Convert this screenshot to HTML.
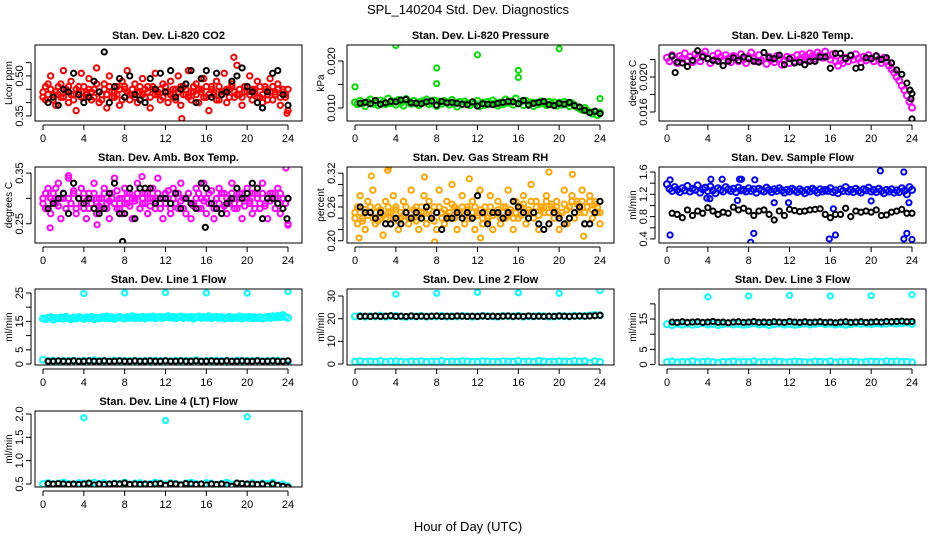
<!DOCTYPE html>
<html><head><meta charset="utf-8"><style>
html,body{margin:0;padding:0;background:#fff;}
svg{display:block;font-family:"Liberation Sans",Arial,sans-serif;}
</style></head><body>
<svg id="chart" width="936" height="540" viewBox="0 0 936 540">
<rect width="936" height="540" fill="#fff"/>
<text x="468" y="14" text-anchor="middle" font-size="13">SPL_140204  Std. Dev. Diagnostics</text>
<text x="468" y="531" text-anchor="middle" font-size="13">Hour of Day (UTC)</text>
</svg>
<script>
// ---- data ----
const xTicks = [0,4,8,12,16,20,24];
const co2Red = [0.44,0.41,0.47,0.50,0.43,0.39,0.46,0.42,0.52,0.45,0.40,0.48,0.43,0.37,0.46,0.51,0.42,0.44,0.49,0.41,0.45,0.53,0.40,0.43,0.47,0.38,0.50,0.44,0.42,0.46,0.39,0.48,0.45,0.52,0.41,0.43,0.47,0.40,0.44,0.49,0.42,0.46,0.38,0.45,0.51,0.43,0.41,0.47,0.44,0.40,0.48,0.42,0.45,0.50,0.39,0.46,0.43,0.52,0.41,0.44,0.47,0.40,0.45,0.49,0.42,0.37,0.46,0.43,0.48,0.41,0.44,0.51,0.40,0.45,0.47,0.42,0.54,0.43,0.39,0.46,0.44,0.50,0.41,0.45,0.48,0.42,0.40,0.46,0.43,0.49,0.41,0.44,0.47,0.39,0.45,0.42,0.37];
const co2Red2 = [0.42,0.46,0.43,0.45,0.41,0.44,0.43,0.47,0.42,0.44,0.46,0.43,0.41,0.45,0.44,0.42,0.46,0.43,0.45,0.44,0.42,0.47,0.44,0.41,0.45,0.43,0.46,0.42,0.44,0.43,0.45,0.41,0.46,0.44,0.43,0.45,0.42,0.44,0.46,0.43,0.45,0.44,0.42,0.46,0.43,0.44,0.45,0.42,0.46,0.44,0.43,0.45,0.41,0.44,0.46,0.43,0.45,0.42,0.44,0.46,0.43,0.45,0.44,0.42,0.46,0.43,0.45,0.44,0.41,0.46,0.43,0.44,0.45,0.42,0.46,0.44,0.43,0.45,0.42,0.44,0.46,0.43,0.45,0.44,0.42,0.46,0.43,0.45,0.41,0.44,0.46,0.43,0.45,0.42,0.44,0.43,0.45];
const co2Black = [0.40,0.42,0.39,0.45,0.44,0.51,0.43,0.40,0.42,0.48,0.44,0.59,0.40,0.46,0.49,0.42,0.50,0.43,0.41,0.40,0.49,0.45,0.51,0.44,0.52,0.42,0.45,0.47,0.52,0.40,0.49,0.52,0.42,0.51,0.43,0.44,0.48,0.50,0.53,0.46,0.44,0.40,0.38,0.44,0.51,0.52,0.43,0.39];
const co2OutX = [18.7,13.6,23.9];
const co2OutY = [0.57,0.34,0.36];
const co2Ticks = [0.35,0.40,0.45,0.50,0.55];
const co2Labels = ["0.35","","","0.50",""];

const presGreen = [0.0112,0.0108,0.0115,0.0110,0.0104,0.0113,0.0118,0.0109,0.0111,0.0106,0.0116,0.0112,0.0108,0.0120,0.0110,0.0114,0.0107,0.0117,0.0111,0.0105,0.0119,0.0113,0.0109,0.0115,0.0110,0.0106,0.0114,0.0112,0.0118,0.0108,0.0111,0.0116,0.0104,0.0113,0.0109,0.0115,0.0111,0.0107,0.0117,0.0110,0.0103,0.0113,0.0108,0.0114,0.0110,0.0106,0.0112,0.0109,0.0115,0.0104,0.0111,0.0107,0.0113,0.0109,0.0116,0.0110,0.0105,0.0112,0.0108,0.0118,0.0111,0.0114,0.0107,0.0120,0.0110,0.0113,0.0106,0.0115,0.0109,0.0112,0.0104,0.0111,0.0108,0.0114,0.0110,0.0106,0.0113,0.0109,0.0112,0.0105,0.0111,0.0107,0.0113,0.0109,0.0104,0.0110,0.0106,0.0102,0.0099,0.0096,0.0100,0.0094,0.0091,0.0088,0.0092,0.0085,0.0090];
const presBlack = [0.0110,0.0112,0.0109,0.0116,0.0108,0.0111,0.0114,0.0113,0.0117,0.0118,0.0111,0.0110,0.0109,0.0113,0.0115,0.0106,0.0114,0.0111,0.0112,0.0110,0.0108,0.0107,0.0113,0.0104,0.0109,0.0108,0.0107,0.0110,0.0112,0.0114,0.0113,0.0109,0.0116,0.0106,0.0110,0.0112,0.0114,0.0107,0.0105,0.0110,0.0108,0.0112,0.0105,0.0102,0.0095,0.0090,0.0093,0.0088];
const presOutX = [0,4,8,8,12,16,16,20,24];
const presOutY = [0.0145,0.0233,0.0185,0.0152,0.0213,0.0180,0.0165,0.0226,0.0120];
const presTicks = [0.010,0.015,0.020];
const presLabels = ["0.010","","0.020"];

const tempMag = [0.0222,0.0218,0.0225,0.0220,0.0216,0.0224,0.0221,0.0227,0.0219,0.0223,0.0217,0.0226,0.0222,0.0218,0.0225,0.0229,0.0221,0.0216,0.0224,0.0220,0.0227,0.0223,0.0219,0.0225,0.0221,0.0217,0.0224,0.0222,0.0218,0.0226,0.0220,0.0216,0.0223,0.0228,0.0221,0.0218,0.0225,0.0219,0.0222,0.0215,0.0223,0.0220,0.0217,0.0224,0.0221,0.0214,0.0219,0.0223,0.0216,0.0222,0.0218,0.0225,0.0220,0.0226,0.0223,0.0219,0.0227,0.0224,0.0221,0.0228,0.0225,0.0222,0.0229,0.0224,0.0220,0.0226,0.0218,0.0213,0.0219,0.0216,0.0222,0.0218,0.0224,0.0220,0.0226,0.0221,0.0217,0.0223,0.0219,0.0225,0.0221,0.0218,0.0224,0.0220,0.0216,0.0222,0.0218,0.0213,0.0209,0.0205,0.0200,0.0196,0.0190,0.0185,0.0179,0.0172,0.0165];
const tempBlack = [0.0224,0.0217,0.0216,0.0212,0.0219,0.0230,0.0223,0.0221,0.0219,0.0218,0.0213,0.0218,0.0222,0.0219,0.0223,0.0221,0.0218,0.0217,0.0228,0.0222,0.0221,0.0225,0.0214,0.0221,0.0216,0.0217,0.0214,0.0218,0.0218,0.0223,0.0223,0.0210,0.0227,0.0227,0.0221,0.0225,0.0210,0.0211,0.0222,0.0221,0.0224,0.0220,0.0222,0.0216,0.0208,0.0203,0.0193,0.0181];
const tempOutX = [0.8,23.8,23.9,24];
const tempOutY = [0.0205,0.0185,0.0175,0.0152];
const tempTicks = [0.016,0.018,0.020,0.022];
const tempLabels = ["0.016","","0.020",""];

const ambMag = [0.30,0.28,0.32,0.27,0.31,0.29,0.33,0.26,0.30,0.28,0.34,0.29,0.31,0.27,0.30,0.32,0.28,0.26,0.31,0.29,0.33,0.27,0.30,0.28,0.32,0.29,0.26,0.31,0.34,0.28,0.30,0.27,0.32,0.29,0.31,0.26,0.30,0.33,0.28,0.29,0.31,0.27,0.30,0.32,0.28,0.34,0.29,0.26,0.31,0.30,0.27,0.32,0.29,0.28,0.33,0.30,0.27,0.31,0.26,0.29,0.32,0.28,0.30,0.33,0.27,0.31,0.29,0.26,0.30,0.32,0.28,0.31,0.27,0.29,0.33,0.30,0.28,0.31,0.26,0.30,0.32,0.29,0.27,0.31,0.30,0.28,0.33,0.29,0.26,0.31,0.30,0.28,0.32,0.27,0.30,0.29,0.25];
const ambMag2 = [0.29,0.31,0.28,0.30,0.295,0.32,0.285,0.30,0.31,0.28,0.30,0.29,0.315,0.28,0.30,0.29,0.31,0.295,0.28,0.30,0.31,0.29,0.285,0.30,0.31,0.28,0.295,0.30,0.29,0.315,0.28,0.30,0.29,0.31,0.285,0.30,0.295,0.31,0.28,0.30,0.29,0.31,0.285,0.30,0.295,0.31,0.28,0.30,0.29,0.315,0.28,0.30,0.29,0.31,0.295,0.28,0.30,0.31,0.29,0.285,0.30,0.31,0.28,0.295,0.30,0.29,0.315,0.28,0.30,0.29,0.31,0.285,0.30,0.295,0.31,0.28,0.30,0.29,0.31,0.285,0.30,0.295,0.31,0.28,0.30,0.29,0.31,0.285,0.30,0.295,0.31,0.30,0.29,0.31,0.30,0.29,0.30];
const ambBlack = [0.28,0.29,0.30,0.31,0.27,0.33,0.30,0.29,0.30,0.28,0.27,0.28,0.31,0.33,0.27,0.27,0.32,0.26,0.32,0.32,0.32,0.29,0.30,0.30,0.29,0.31,0.28,0.30,0.29,0.28,0.33,0.32,0.29,0.28,0.27,0.29,0.30,0.32,0.30,0.31,0.33,0.32,0.26,0.30,0.30,0.29,0.28,0.30];
const ambOutX = [0.7,5.3,9.7,2.5,23.8,24];
const ambOutY = [0.242,0.248,0.343,0.345,0.360,0.247];
const ambBOutX = [7.8,15.9,23.9];
const ambBOutY = [0.215,0.243,0.260];
const ambTicks = [0.25,0.30,0.35];
const ambLabels = ["0.25","","0.35"];

const rhOrange = [0.25,0.23,0.28,0.24,0.22,0.27,0.25,0.29,0.23,0.26,0.24,0.21,0.27,0.25,0.23,0.28,0.26,0.22,0.24,0.27,0.25,0.23,0.29,0.24,0.26,0.22,0.25,0.28,0.23,0.27,0.24,0.26,0.22,0.29,0.25,0.23,0.27,0.24,0.30,0.26,0.22,0.25,0.28,0.23,0.26,0.24,0.27,0.22,0.25,0.29,0.23,0.26,0.24,0.28,0.22,0.25,0.27,0.23,0.26,0.24,0.29,0.25,0.22,0.27,0.24,0.26,0.28,0.23,0.25,0.30,0.24,0.27,0.22,0.26,0.25,0.28,0.23,0.26,0.24,0.27,0.22,0.25,0.29,0.23,0.26,0.28,0.24,0.27,0.25,0.29,0.23,0.26,0.28,0.24,0.27,0.25,0.23];
const rhOrange2 = [0.24,0.26,0.25,0.235,0.255,0.245,0.26,0.24,0.25,0.235,0.255,0.245,0.24,0.26,0.25,0.24,0.255,0.235,0.25,0.245,0.26,0.24,0.25,0.255,0.235,0.245,0.26,0.25,0.24,0.255,0.245,0.235,0.25,0.26,0.24,0.255,0.245,0.25,0.265,0.24,0.255,0.25,0.26,0.245,0.255,0.24,0.25,0.26,0.245,0.255,0.24,0.25,0.235,0.26,0.245,0.25,0.255,0.24,0.25,0.26,0.245,0.255,0.24,0.25,0.26,0.245,0.265,0.25,0.255,0.27,0.25,0.26,0.245,0.255,0.26,0.27,0.25,0.265,0.255,0.26,0.245,0.25,0.265,0.255,0.26,0.27,0.25,0.265,0.255,0.27,0.25,0.26,0.27,0.255,0.265,0.26,0.25];
const rhBlack = [0.26,0.25,0.25,0.24,0.25,0.23,0.23,0.24,0.23,0.25,0.24,0.25,0.24,0.26,0.24,0.25,0.22,0.24,0.24,0.25,0.24,0.25,0.24,0.28,0.25,0.23,0.25,0.25,0.24,0.25,0.27,0.26,0.25,0.24,0.25,0.23,0.22,0.23,0.25,0.24,0.23,0.24,0.25,0.26,0.23,0.23,0.25,0.27];
const rhOutX = [0.4,1.6,3.2,3.3,6.8,7.8,11.2,19,21.3,12.3,22.4];
const rhOutY = [0.205,0.315,0.325,0.330,0.313,0.198,0.310,0.322,0.318,0.205,0.208];
const rhTicks = [0.20,0.22,0.24,0.26,0.28,0.30,0.32];
const rhLabels = ["0.20","","","0.26","","","0.32"];

const flowBlue = [1.38,1.30,1.26,1.33,1.28,1.24,1.31,1.27,1.35,1.25,1.30,1.28,1.36,1.23,1.29,1.32,1.26,1.34,1.27,1.22,1.31,1.28,1.25,1.33,1.29,1.26,1.30,1.24,1.32,1.27,1.28,1.25,1.31,1.26,1.29,1.23,1.30,1.27,1.25,1.32,1.28,1.24,1.29,1.26,1.31,1.27,1.23,1.28,1.25,1.30,1.27,1.24,1.29,1.26,1.22,1.28,1.25,1.30,1.27,1.23,1.29,1.25,1.28,1.26,1.31,1.24,1.27,1.22,1.29,1.26,1.33,1.25,1.28,1.24,1.30,1.26,1.23,1.29,1.27,1.32,1.25,1.28,1.24,1.30,1.26,1.22,1.28,1.25,1.29,1.23,1.27,1.24,1.31,1.26,1.20,1.33,1.28];
const flowBlack = [0.86,0.84,0.78,0.92,0.82,0.90,0.86,0.96,0.90,0.84,0.88,0.86,0.97,0.92,0.95,0.90,0.82,0.90,0.92,0.84,0.74,0.90,0.82,0.93,0.91,0.89,0.90,0.92,0.93,0.94,0.84,0.78,0.84,0.84,0.95,0.80,0.90,0.88,0.90,0.88,0.92,0.82,0.83,0.88,0.90,0.93,0.86,0.86];
const flowOutX = [0.3,0.3,4.2,4.3,5.4,7.1,7.3,8.2,8.5,8.6,10.5,11.9,15.9,16.3,16.5,20,20.9,23.2,23.2,23.5,24,23.7,6.9,3.9];
const flowOutY = [0.47,1.46,1.12,1.47,1.47,1.47,1.47,0.34,0.50,1.46,1.05,1.05,0.40,0.94,0.47,1.08,1.62,1.60,0.40,0.50,0.39,1.05,1.09,1.13];
const flowTicks = [0.4,0.6,0.8,1.0,1.2,1.4,1.6];
const flowLabels = ["0.4","","0.8","","1.2","","1.6"];

const l1CyanHi = [16.0,15.8,16.3,16.5,15.6,16.2,16.0,16.4,15.9,16.6,16.1,15.8,16.3,16.0,16.5,16.2,15.9,16.4,16.1,16.6,15.8,16.3,16.0,16.5,16.2,16.7,16.1,16.4,15.9,16.3,16.6,16.2,16.0,16.5,16.3,16.8,16.1,16.4,16.2,16.6,16.0,16.5,16.3,16.7,16.1,16.4,16.6,16.2,16.5,16.8,16.3,16.6,16.1,16.4,16.7,16.2,16.5,16.3,16.6,16.0,16.4,16.7,16.2,16.5,16.3,16.8,16.1,16.4,16.6,16.2,16.5,16.0,16.3,16.6,16.1,16.4,16.2,16.7,16.0,16.5,16.3,16.6,16.1,16.4,16.2,16.5,16.0,16.3,16.6,16.2,16.8,16.4,16.9,16.5,17.2,16.6,16.2];
const l1CyanLo = [1.5,1.0,1.2,0.9,1.1,1.0,1.2,0.9,1.1,1.0,1.3,1.0,1.1,0.9,1.2,1.0,1.1,1.0,1.2,0.9,1.1,1.0,1.2,1.0,1.1,0.9,1.2,1.0,1.1,1.0,1.3,0.9,1.1,1.0,1.2,1.0,1.1,0.9,1.2,1.0,1.1,1.0,1.2,0.9,1.1,1.0,1.2,0.9,-0.3];
const l1Black = [1.0,1.0,1.1,1.0,1.0,1.1,1.0,1.0,1.1,1.0,1.0,1.1,1.0,1.0,1.1,1.0,1.0,1.1,1.0,1.0,1.1,1.0,1.0,1.1,1.0,1.0,1.1,1.0,1.0,1.1,1.0,1.0,1.1,1.0,1.0,1.1,1.0,1.0,1.1,1.0,1.0,1.1,1.0,1.0,1.1,1.0,1.0,1.1];
const l1OutX = [4,8,12,16,20,24];
const l1OutY = [24.8,25.0,25.1,25.0,24.9,25.5];
const l1Ticks = [0,5,10,15,20,25];
const l1Labels = ["0","5","","15","","25"];

const l2CyanHi = [21.0,21.2,20.9,21.1,21.0,21.3,20.9,21.1,21.2,21.0,20.8,21.1,21.0,21.2,20.9,21.1,21.0,21.3,20.9,21.1,21.0,21.2,21.1,20.9,21.0,21.2,21.1,21.0,20.9,21.2,21.1,21.0,21.3,20.9,21.1,21.0,21.2,21.1,20.9,21.0,21.2,21.1,21.0,21.3,21.1,21.2,21.4,21.6,21.5];
const l2CyanLo = [1.0,1.2,0.9,1.1,1.0,1.3,0.9,1.1,1.2,1.0,0.8,1.1,1.0,1.2,0.9,1.1,1.0,1.3,0.9,1.1,1.0,1.2,1.1,0.9,1.0,1.2,1.1,1.0,0.9,1.2,1.1,1.0,1.3,0.9,1.1,1.0,1.4,1.1,0.9,1.0,1.2,1.1,1.0,1.3,1.1,1.2,0.4,1.2,0.9];
const l2Black = [21.0,21.1,21.0,21.2,21.0,21.1,21.3,21.0,21.1,21.0,21.2,21.0,21.1,21.0,21.1,21.2,21.0,21.1,21.0,21.2,21.1,21.0,21.1,21.0,21.2,21.0,21.1,21.0,21.1,21.2,21.0,21.1,21.0,21.2,21.0,21.1,21.0,21.1,21.0,21.2,21.1,21.0,21.1,21.2,21.1,21.2,21.3,21.5];
const l2OutX = [4,8,12,16,20,24];
const l2OutY = [30.8,31.2,31.6,31.4,31.2,32.5];
const l2Ticks = [0,10,20,30];
const l2Labels = ["0","10","20","30"];

const l3CyanHi = [13.3,13.0,13.4,13.2,13.5,13.1,13.3,13.6,13.2,13.4,13.0,13.3,13.5,13.2,13.4,13.1,13.3,13.6,13.2,13.4,13.0,13.3,13.5,13.2,13.4,13.1,13.3,13.5,13.2,13.4,13.6,13.3,13.5,13.2,13.4,13.1,13.3,13.6,13.4,13.5,13.3,13.6,13.4,13.5,13.7,13.5,13.6,13.8,13.4];
const l3CyanLo = [0.8,1.0,0.7,0.9,0.8,1.1,0.7,0.9,1.0,0.8,0.6,0.9,0.8,1.0,0.7,0.9,0.8,1.1,0.7,0.9,0.8,1.0,0.9,0.7,0.8,1.0,0.9,0.8,0.7,1.0,0.9,0.8,1.1,0.7,0.9,0.8,1.0,0.9,0.7,0.8,1.0,0.9,0.8,1.1,0.9,1.0,0.8,0.9,0.7];
const l3Black = [14.0,13.9,14.1,13.9,14.0,14.1,13.9,14.0,14.2,13.9,14.0,13.8,14.0,14.1,13.9,14.0,14.2,13.9,14.0,13.9,14.1,14.0,13.9,14.2,14.0,13.9,14.1,13.9,14.0,14.1,13.9,14.0,13.8,14.0,14.1,13.9,14.0,14.1,13.9,14.0,14.1,14.0,14.2,14.1,14.2,14.3,14.1,14.2];
const l3OutX = [4,8,12,16,20,24];
const l3OutY = [22.3,22.6,22.8,22.6,22.7,23.0];
const l3Ticks = [0,5,10,15,20];
const l3Labels = ["0","5","","15",""];

const l4Cyan = [0.50,0.52,0.49,0.51,0.53,0.50,0.48,0.52,0.51,0.49,0.53,0.50,0.52,0.48,0.51,0.50,0.53,0.49,0.51,0.52,0.48,0.50,0.53,0.51,0.49,0.52,0.50,0.48,0.51,0.53,0.50,0.49,0.52,0.51,0.48,0.50,0.53,0.49,0.51,0.50,0.48,0.52,0.49,0.51,0.50,0.53,0.47,0.49,0.45];
const l4Black = [0.51,0.50,0.51,0.50,0.49,0.50,0.49,0.50,0.52,0.48,0.50,0.49,0.50,0.51,0.50,0.52,0.49,0.50,0.49,0.50,0.49,0.50,0.51,0.47,0.51,0.50,0.48,0.51,0.50,0.49,0.50,0.48,0.50,0.49,0.50,0.48,0.45,0.52,0.51,0.50,0.50,0.49,0.50,0.46,0.50,0.47,0.45,0.43];
const l4OutX = [4,12,20];
const l4OutY = [1.92,1.86,1.94];
const l4Ticks = [0.5,1.0,1.5,2.0];
const l4Labels = ["0.5","1.0","1.5","2.0"];

// ---- rendering ----
const NS = "http://www.w3.org/2000/svg";
const svg = document.getElementById("chart");
function mk(tag, attrs, parent) {
  const e = document.createElementNS(NS, tag);
  for (const k in attrs) e.setAttribute(k, attrs[k]);
  (parent || svg).appendChild(e);
  return e;
}
function drawPanel(p) {
  const off = p.col * 312, top = 45 + p.row * 122, bot = top + 76;
  const L = off + 35, R = off + 302;
  const g = mk("g", {});
  
  
  const xs = v => off + 43 + v * (245 / 24);
  const ys = v => bot - (v - p.ymin) / (p.ymax - p.ymin) * 76;
  const t = mk("text", {x: (L + R) / 2, y: top - 6, "text-anchor": "middle", "font-size": 11, "font-weight": "bold"}, g);
  t.textContent = p.title;
  
  
  const cl = mk("clipPath", {id: "c" + p.name}, g);
  mk("rect", {x: L, y: top, width: R - L, height: 76}, cl);
  const pts = mk("g", {"clip-path": "url(#c" + p.name + ")", fill: "none", "stroke-width": 2}, g);
  function series(arr, color, name, xArr, r) {
    const sg = mk("g", {stroke: color}, pts);
    
    
    arr.forEach((v, i) => {
      const hx = xArr ? xArr[i] : (arr === p.black ? 0.5 + i * 23.5 / (arr.length - 1) : i * 24 / (arr.length - 1));
      const c = mk("circle", {cx: xs(hx), cy: ys(v), r: r || 2.6}, sg);
      
      
    });
  }
  p.colored.forEach((arr, k) => series(arr, p.color, p.name + '-series-' + k, null, p.big ? 3 : 2.7));
  if (p.outX) series(p.outY, p.color, p.name + '-outliers', p.outX);
  series(p.black, "#000", p.name + '-black-series');
  if (p.bOutX) series(p.bOutY, "#000", p.name + '-black-outliers', p.bOutX);
  const frame = mk("rect", {x: L, y: top, width: R - L, height: 76, fill: "none", stroke: "#000", "stroke-width": 1}, g);
  
  
  const xa = mk("g", {stroke: "#000", "stroke-width": 1}, g);
  
  
  mk("line", {x1: xs(xTicks[0]), x2: xs(xTicks[xTicks.length - 1]), y1: bot + 4, y2: bot + 4}, xa);
  xTicks.forEach(v => {
    mk("line", {x1: xs(v), x2: xs(v), y1: bot + 4, y2: bot + 9}, xa);
    const tx = mk("text", {x: xs(v), y: bot + 21, "text-anchor": "middle", "font-size": 11, stroke: "none"}, xa);
    tx.textContent = v;
    
    
  });
  const ya = mk("g", {stroke: "#000", "stroke-width": 1}, g);
  
  
  mk("line", {x1: L - 4, x2: L - 4, y1: ys(p.ticks[0]), y2: ys(p.ticks[p.ticks.length - 1])}, ya);
  p.ticks.forEach((v, i) => {
    mk("line", {x1: L - 9, x2: L - 4, y1: ys(v), y2: ys(v)}, ya);
    if (p.labels[i]) {
      const tx = mk("text", {x: L - 12, y: ys(v), "text-anchor": "middle", "font-size": 11, stroke: "none", transform: "rotate(-90 " + (L - 12) + " " + ys(v) + ")"}, ya);
      tx.textContent = p.labels[i];
      
      
    }
  });
  const yt = mk("text", {x: off + 12, y: (top + bot) / 2, "text-anchor": "middle", "font-size": 10, transform: "rotate(-90 " + (off + 12) + " " + (top + bot) / 2 + ")"}, g);
  yt.textContent = p.ytitle;
  
  
}
const panels = [
  {name: "co2", row: 0, col: 0, title: "Stan. Dev. Li-820 CO2", ytitle: "Licor ppm", color: "#ff0000", ymin: 0.331, ymax: 0.616, colored: [co2Red, co2Red2], black: co2Black, outX: co2OutX, outY: co2OutY, ticks: co2Ticks, labels: co2Labels},
  {name: "pressure", row: 0, col: 1, title: "Stan. Dev. Li-820 Pressure", ytitle: "kPa", color: "#00e000", ymin: 0.00723, ymax: 0.0234, colored: [presGreen], black: presBlack, outX: presOutX, outY: presOutY, ticks: presTicks, labels: presLabels, big: true},
  {name: "licor-temp", row: 0, col: 2, title: "Stan. Dev. Li-820 Temp.", ytitle: "degrees C", color: "#ff00ff", ymin: 0.01497, ymax: 0.02366, colored: [tempMag], black: tempBlack, bOutX: tempOutX, bOutY: tempOutY, ticks: tempTicks, labels: tempLabels, big: true},
  {name: "amb-temp", row: 1, col: 0, title: "Stan. Dev. Amb. Box Temp.", ytitle: "degrees C", color: "#ff00ff", ymin: 0.212, ymax: 0.362, colored: [ambMag, ambMag2], black: ambBlack, outX: ambOutX, outY: ambOutY, bOutX: ambBOutX, bOutY: ambBOutY, ticks: ambTicks, labels: ambLabels},
  {name: "rh", row: 1, col: 1, title: "Stan. Dev. Gas Stream RH", ytitle: "percent", color: "#ffa500", ymin: 0.196, ymax: 0.331, colored: [rhOrange, rhOrange2], black: rhBlack, outX: rhOutX, outY: rhOutY, ticks: rhTicks, labels: rhLabels},
  {name: "sample-flow", row: 1, col: 2, title: "Stan. Dev. Sample Flow", ytitle: "ml/min", color: "#0000ff", ymin: 0.327, ymax: 1.69, colored: [flowBlue], black: flowBlack, outX: flowOutX, outY: flowOutY, ticks: flowTicks, labels: flowLabels, big: true},
  {name: "line1", row: 2, col: 0, title: "Stan. Dev. Line 1 Flow", ytitle: "ml/min", color: "#00ffff", ymin: -0.35, ymax: 26.4, colored: [l1CyanHi, l1CyanLo], black: l1Black, outX: l1OutX, outY: l1OutY, ticks: l1Ticks, labels: l1Labels, big: true},
  {name: "line2", row: 2, col: 1, title: "Stan. Dev. Line 2 Flow", ytitle: "ml/min", color: "#00ffff", ymin: -0.44, ymax: 33.1, colored: [l2CyanHi, l2CyanLo], black: l2Black, outX: l2OutX, outY: l2OutY, ticks: l2Ticks, labels: l2Labels, big: true},
  {name: "line3", row: 2, col: 2, title: "Stan. Dev. Line 3 Flow", ytitle: "ml/min", color: "#00ffff", ymin: -0.15, ymax: 24.9, colored: [l3CyanHi, l3CyanLo], black: l3Black, outX: l3OutX, outY: l3OutY, ticks: l3Ticks, labels: l3Labels, big: true},
  {name: "line4", row: 3, col: 0, title: "Stan. Dev. Line 4 (LT) Flow", ytitle: "ml/min", color: "#00ffff", ymin: 0.436, ymax: 2.064, colored: [l4Cyan], black: l4Black, outX: l4OutX, outY: l4OutY, ticks: l4Ticks, labels: l4Labels, big: true}
];
panels.forEach(drawPanel);
</script>
</body></html>
